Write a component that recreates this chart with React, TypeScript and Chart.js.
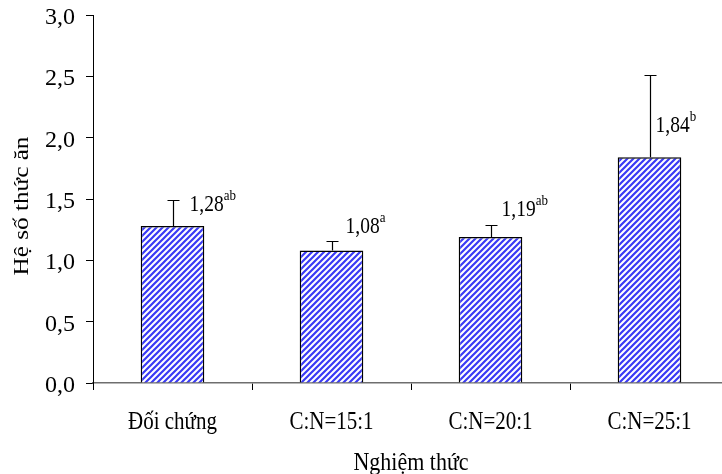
import React, { useEffect, useRef } from "react";
import { Chart, registerables } from "chart.js";

Chart.register(...registerables);

const categories = ["Đối chứng", "C:N=15:1", "C:N=20:1", "C:N=25:1"];
const values = [1.28, 1.08, 1.19, 1.84];
const errors = [0.21, 0.08, 0.1, 0.67];
const letters = ["ab", "a", "ab", "b"];
const yTickValues = [0, 0.5, 1, 1.5, 2, 2.5, 3];
const yTitle = "Hệ số thức ăn";
const xTitle = "Nghiệm thức";

// value-label offsets (pixels) relative to bar top-center: [dx, baseline dy]
const labelOffsets = [
  [17, -15],
  [14, -18],
  [11, -21],
  [6, -25],
];

const FONT = "'Liberation Serif', 'Times New Roman', serif";

function makePattern(): CanvasPattern | string {
  const c = document.createElement("canvas");
  c.width = 6;
  c.height = 6;
  const g = c.getContext("2d");
  if (!g) return "#4040ff";
  g.fillStyle = "#ffffff";
  g.fillRect(0, 0, 6, 6);
  g.strokeStyle = "#3a3af5";
  g.lineWidth = 2.2;
  g.beginPath();
  g.moveTo(-1, 7);
  g.lineTo(7, -1);
  g.moveTo(-1, 1);
  g.lineTo(1, -1);
  g.moveTo(5, 7);
  g.lineTo(7, 5);
  g.stroke();
  const p = g.createPattern(c, "repeat");
  return p || "#4040ff";
}

const fmt = (v: number) => v.toFixed(1).replace(".", ",");
const fmt2 = (v: number) => v.toFixed(2).replace(".", ",");

// draw text stretched vertically (the reference figure is stretched)
function stretchText(
  ctx: CanvasRenderingContext2D,
  text: string,
  x: number,
  y: number,
  size: number,
  sy: number,
  align: CanvasTextAlign,
  rotate = false
) {
  ctx.save();
  ctx.translate(x, y);
  if (rotate) {
    ctx.rotate(-Math.PI / 2);
    ctx.scale(sy, 1);
  } else {
    ctx.scale(1, sy);
  }
  ctx.font = `${size}px ${FONT}`;
  ctx.textAlign = align;
  ctx.textBaseline = "alphabetic";
  ctx.fillStyle = "#000";
  ctx.fillText(text, 0, 0);
  ctx.restore();
}

const annotPlugin = {
  id: "annot",
  afterDatasetsDraw(chart: any) {
    const ctx = chart.ctx;
    const meta = chart.getDatasetMeta(0);
    const ys = chart.scales.y;
    ctx.save();
    meta.data.forEach((bar: any, i: number) => {
      const x = Math.round(bar.x) + 0.5;
      const top = bar.y;
      const yErr = Math.round(ys.getPixelForValue(values[i] + errors[i])) + 0.5;
      ctx.strokeStyle = "#000";
      ctx.lineWidth = 1.2;
      ctx.beginPath();
      ctx.moveTo(x, top);
      ctx.lineTo(x, yErr);
      ctx.moveTo(x - 6, yErr);
      ctx.lineTo(x + 6, yErr);
      ctx.stroke();

      const [dx, dy] = labelOffsets[i];
      const lx = bar.x + dx;
      const ly = top + dy;
      const main = fmt2(values[i]);
      stretchText(ctx, main, lx, ly, 19.5, 1.2, "left");
      ctx.font = `19.5px ${FONT}`;
      const w = ctx.measureText(main).width;
      stretchText(ctx, letters[i], lx + w, ly - 11, 13, 1.2, "left");
    });
    ctx.restore();
  },
  afterDraw(chart: any) {
    const ctx = chart.ctx;
    const xs = chart.scales.x;
    const ys = chart.scales.y;
    const area = chart.chartArea;
    // y tick labels
    yTickValues.forEach((v) => {
      const y = ys.getPixelForValue(v);
      stretchText(ctx, fmt(v), ys.right - 18, y + 9, 24, 1.0, "right");
    });
    // x tick labels
    categories.forEach((c, i) => {
      const x = xs.getPixelForValue(i);
      stretchText(ctx, c, x, xs.top + 46, 21, 1.18, "center");
    });
    // axis titles
    stretchText(ctx, xTitle, (area.left + area.right) / 2, xs.bottom - 4, 22, 1.15, "center");
    stretchText(ctx, yTitle, 28, (area.top + area.bottom) / 2 + 7, 21, 1.2, "center", true);
  },
};

export default function App() {
  const ref = useRef<HTMLCanvasElement>(null);
  useEffect(() => {
    document.body.style.overflow = "hidden";
    document.documentElement.style.overflow = "hidden";
    const canvas = ref.current;
    if (!canvas) return;
    const chart = new Chart(canvas, {
      type: "bar",
      data: {
        labels: categories,
        datasets: [
          {
            data: values,
            backgroundColor: makePattern() as any,
            borderColor: "#000",
            borderWidth: 1.5,
            barPercentage: 0.4,
            categoryPercentage: 1,
          },
        ],
      },
      options: {
        responsive: false,
        animation: false,
        events: [],
        layout: { padding: { left: 0, top: 15, right: 11, bottom: 0 } },
        plugins: {
          legend: { display: false },
          tooltip: { enabled: false },
        },
        scales: {
          x: {
            grid: {
              offset: true,
              drawOnChartArea: false,
              drawTicks: true,
              tickLength: 7,
              color: "#000",
            },
            border: { display: true, color: "#6e6e6e", width: 1.5 },
            ticks: { display: false },
            title: { display: false },
            afterFit(scale: any) {
              scale.height = 91;
              scale.paddingLeft = 0;
              scale.paddingRight = 0;
            },
          },
          y: {
            min: 0,
            max: 3,
            afterBuildTicks(scale: any) {
              scale.ticks = yTickValues.map((v) => ({ value: v }));
            },
            grid: {
              drawOnChartArea: false,
              drawTicks: true,
              tickLength: 7,
              color: "#000",
            },
            border: { display: true, color: "#000", width: 1 },
            ticks: { display: false },
            title: { display: false },
            afterFit(scale: any) {
              scale.width = 93;
              scale.paddingTop = 0;
              scale.paddingBottom = 0;
            },
          },
        },
      },
      plugins: [annotPlugin],
    });
    return () => chart.destroy();
  }, []);
  return (
    <div style={{ position: "absolute", left: 0, top: 0, width: 740, height: 474 }}>
      <canvas ref={ref} width={740} height={474} style={{ display: "block" }} />
    </div>
  );
}
